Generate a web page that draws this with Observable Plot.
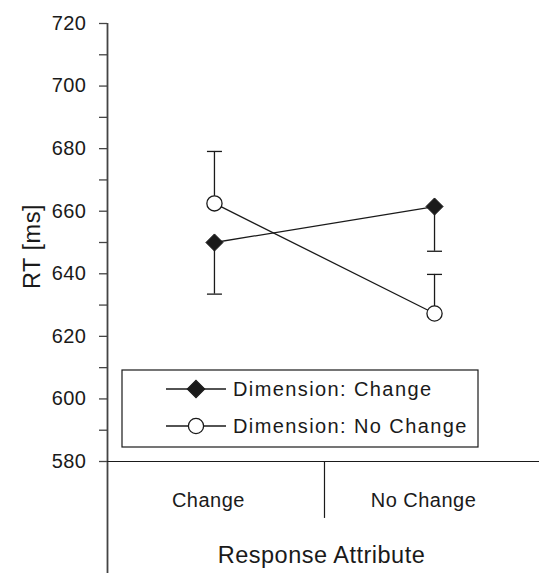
<!DOCTYPE html>
<html>
<head>
<meta charset="utf-8">
<script src="https://cdn.jsdelivr.net/npm/d3@7"></script>
<script src="https://cdn.jsdelivr.net/npm/@observablehq/plot@0.6"></script>
<style>
  html, body { margin: 0; padding: 0; background: white; }
</style>
</head>
<body>
<div id="chart"></div>
<script>
// ---- data ----
const categories = ["Change", "No Change"];
const categoryPos = [1, 2];
const seriesNames = ["Dimension: Change", "Dimension: No Change"];
const dimChangeRT = [650, 661.5];
const dimChangeBound = [633.5, 647.2];    // lower error bar ends
const dimNoChangeRT = [662.5, 627.3];
const dimNoChangeBound = [679.1, 639.8];  // upper error bar ends
const yMajorTicks = [580, 600, 620, 640, 660, 680, 700, 720];
const yMinorTicks = [590, 610, 630, 650, 670, 690, 710];
const xTitle = "Response Attribute";
const yTitle = "RT [ms]";

const rows = [];
categories.forEach((c, i) => {
  rows.push({series: seriesNames[0], cat: c, x: categoryPos[i], rt: dimChangeRT[i], bound: dimChangeBound[i]});
  rows.push({series: seriesNames[1], cat: c, x: categoryPos[i], rt: dimNoChangeRT[i], bound: dimNoChangeBound[i]});
});
const sA = rows.filter(d => d.series === seriesNames[0]);
const sB = rows.filter(d => d.series === seriesNames[1]);

const xDomain = [0.514, 2.477];
const yDomain = [580, 720];

const capSymbol = {
  draw(ctx) { ctx.moveTo(-7.5, 0); ctx.lineTo(7.5, 0); }
};

const ink = "#1a1a1a";

const chart = Plot.plot({
  width: 539,
  height: 573,
  marginLeft: 107,
  marginRight: 0,
  marginTop: 23,
  marginBottom: 112,
  style: "font-family: 'Liberation Sans', Arial, sans-serif; font-size: 20px; color: #1a1a1a; background: white; overflow: visible; letter-spacing: 0.5px;",
  x: {domain: xDomain, axis: null},
  y: {domain: yDomain, axis: null},
  marks: [
    // y axis
    Plot.axisY({ticks: yMajorTicks, tickSize: 8, tickPadding: 13, label: null, fontSize: 20, stroke: "#444", strokeWidth: 1.3}),
    Plot.axisY({ticks: yMinorTicks, tickSize: 8, tickFormat: () => "", label: null, stroke: "#444", strokeWidth: 1.3}),
    Plot.ruleX([xDomain[0]], {y1: 720, y2: 544, stroke: "#444", strokeWidth: 1.8}),
    // x axis
    Plot.ruleY([yDomain[0]], {stroke: ink, strokeWidth: 1.2}),
    Plot.ruleX([1.5], {y1: 580, y2: 561.8, stroke: ink, strokeWidth: 1.2}),
    Plot.text([categories[0]], {x: categoryPos[0], y: yDomain[0], dy: 39, dx: -6, fontSize: 20, fill: ink}),
    Plot.text([categories[1]], {x: categoryPos[1], y: yDomain[0], dy: 39, dx: -11, fontSize: 20, fill: ink}),
    Plot.text([xTitle], {x: 1.5, y: yDomain[0], dy: 94, dx: -3, fontSize: 23.5, fill: ink}),
    Plot.text([yTitle], {frameAnchor: "left", dx: -75, dy: 4, rotate: -90, textAnchor: "middle", lineAnchor: "middle", fontSize: 23.5, fill: ink}),
    // error bars
    Plot.ruleX(rows, {x: "x", y1: "rt", y2: "bound", stroke: ink, strokeWidth: 1.3}),
    Plot.dot(rows, {x: "x", y: "bound", symbol: capSymbol, stroke: ink, strokeWidth: 1.3, fill: "none"}),
    // lines
    Plot.line(sA, {x: "x", y: "rt", stroke: ink, strokeWidth: 1.3}),
    Plot.line(sB, {x: "x", y: "rt", stroke: ink, strokeWidth: 1.3}),
    // markers
    Plot.dot(sA, {x: "x", y: "rt", symbol: "diamond2", r: 7.7, fill: ink, stroke: ink, strokeWidth: 1}),
    Plot.dot(sB, {x: "x", y: "rt", symbol: "circle", r: 7.6, fill: "white", stroke: ink, strokeWidth: 1.3})
  ]
});

// legend inside the plot area
const svg = d3.select(chart);
const lg = svg.append("g").attr("class", "legend");
lg.append("rect").attr("x", 122).attr("y", 370).attr("width", 356).attr("height", 77)
  .attr("fill", "white").attr("stroke", ink).attr("stroke-width", 1.2);
const legendRows = [
  {name: seriesNames[0], cy: 389, sym: d3.symbolDiamond2, size: Math.pow(8.6 / 0.62625, 2), fill: ink},
  {name: seriesNames[1], cy: 426, sym: d3.symbolCircle, size: Math.PI * 7.6 * 7.6, fill: "white"}
];
legendRows.forEach(r => {
  lg.append("line").attr("x1", 166).attr("x2", 226).attr("y1", r.cy).attr("y2", r.cy)
    .attr("stroke", ink).attr("stroke-width", 1.3);
  lg.append("path").attr("d", d3.symbol(r.sym, r.size)()).attr("transform", `translate(196,${r.cy})`)
    .attr("fill", r.fill).attr("stroke", ink).attr("stroke-width", 1.3);
  lg.append("text").attr("x", 233).attr("y", r.cy).attr("dy", "0.35em")
    .attr("text-anchor", "start")
    .attr("font-size", 20).attr("letter-spacing", "1.4px").attr("fill", ink).text(r.name);
});

document.getElementById("chart").appendChild(chart);
</script>
</body>
</html>
